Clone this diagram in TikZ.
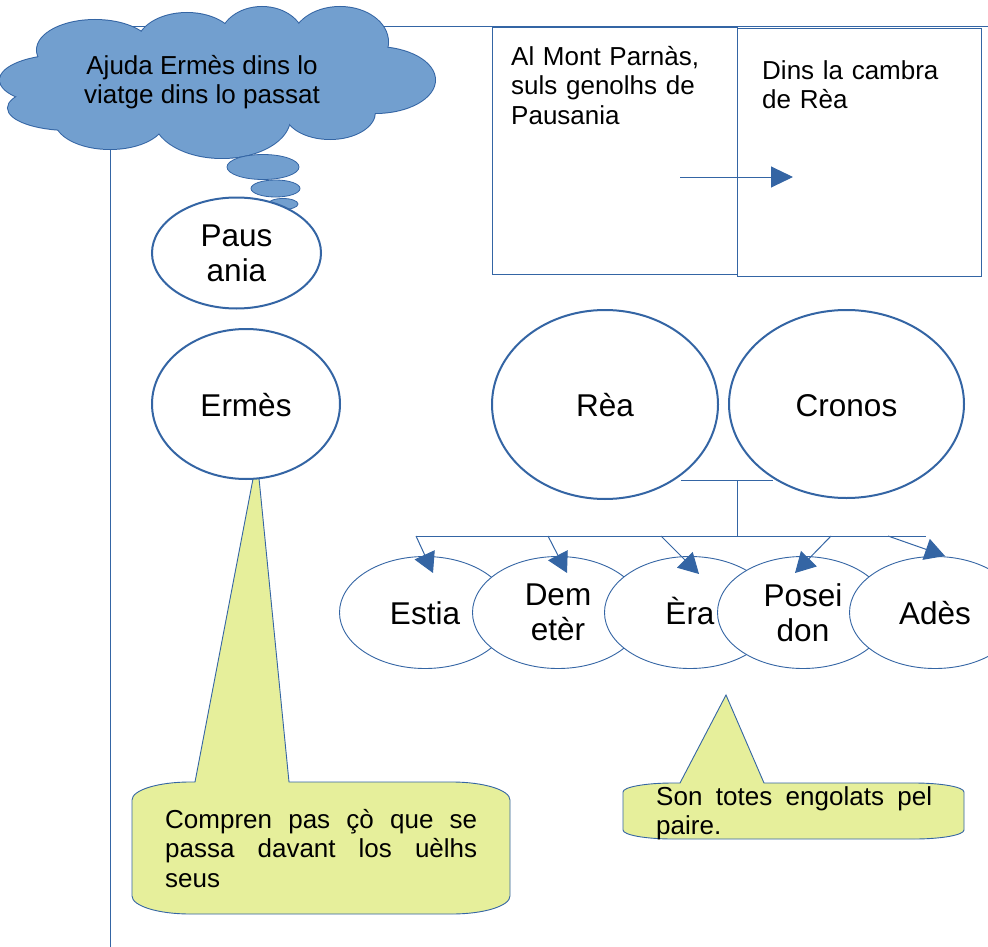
\documentclass[tikz,border=0pt]{standalone}
\usepackage{fontspec}
\setmainfont{Liberation Sans}
\usetikzlibrary{shapes.geometric,arrows.meta,calc}
\definecolor{lineblue}{HTML}{3465A4}
\definecolor{cloudblue}{HTML}{729FCF}
\definecolor{callyellow}{HTML}{E6EF9B}
\newcommand{\lblfont}{\fontsize{31.5}{35}\selectfont}
\newcommand{\txtfont}{\fontsize{26}{29.5}\selectfont\tolerance=9999 }
\begin{document}
\begin{tikzpicture}[x=1pt,y=-1pt,
  conn/.style={draw=lineblue, line width=1pt},
  arrtip/.style={conn, -{Triangle[length=20pt,width=22pt]}},
  boxarr/.style={conn, -{Triangle[length=22pt,width=21pt]}},
  bigell/.style={ellipse, draw=lineblue, line width=2pt, fill=white, inner sep=0pt, font=\lblfont, align=center},
  smallell/.style={ellipse, draw=lineblue, line width=0.9pt, fill=white, inner sep=0pt, font=\lblfont, align=center, minimum width=171pt, minimum height=112pt},
  oneline/.style={text height=24pt, text depth=0pt},
  panel/.style={rectangle, draw=lineblue, line width=1pt, inner sep=0pt, anchor=north west},
  txt/.style={inner sep=0pt, font=\txtfont, anchor=north west},
  callout/.style={draw=lineblue, line width=0.9pt, fill=callyellow},
  puff/.style={fill=cloudblue},
  puffline/.style={draw=lineblue, line width=2pt},
  bubble/.style={draw=lineblue, line width=0.8pt, fill=cloudblue}
]
\useasboundingbox (0,0) rectangle (988,947);
\fill[white] (0,0) rectangle (988,947);
\clip (0,0) rectangle (988,947);

% long elbow connector behind the cloud
\coordinate (vbot) at (110,947);
\coordinate (corner) at (110,27);
\coordinate (hend) at (988,27);
\draw[conn] (vbot) -- (corner) -- (hend);

% cloud
\foreach \cx/\cy/\rx/\ry in {65/80/65/25, 95/50/58/30, 187/45/50/32, 262/40/42/33, 340/42/48/35, 375/80/60/33, 330/112/45/27, 222/118/68/40, 110/120/55/29, 70/108/62/22}{
  \path[puffline] (\cx,\cy) ellipse [x radius=\rx, y radius=\ry];
}
\foreach \cx/\cy/\rx/\ry in {65/80/65/25, 95/50/58/30, 187/45/50/32, 262/40/42/33, 340/42/48/35, 375/80/60/33, 330/112/45/27, 222/118/68/40, 110/120/55/29, 70/108/62/22, 215/80/150/50}{
  \path[puff] (\cx,\cy) ellipse [x radius=\rx, y radius=\ry];
}
\node[inner sep=0pt, font=\txtfont, align=center, anchor=north] (cloudtxt) at (202,55) {Ajuda Ermès dins lo\\viatge dins lo passat};

% thought bubbles
\path[bubble] (263,167) ellipse [x radius=36, y radius=12.5];
\path[bubble] (275.5,188.5) ellipse [x radius=24.5, y radius=8.5];
\path[bubble] (283,204) ellipse [x radius=15, y radius=5.5];

% panels
\node[panel, minimum width=245pt, minimum height=247pt] (box1) at (492,27) {};
\node[panel, minimum width=244pt, minimum height=248pt] (box2) at (737,28) {};
\node[txt, text width=220pt, align=left] (box1txt) at (511,46) {Al Mont Parnàs,\\suls genolhs de\\Pausania};
\node[txt, text width=210pt, align=left] (box2txt) at (762,60) {Dins la cambra\\de Rèa};
\coordinate (a1) at (680,177);
\coordinate (a2) at (793,177);
\draw[boxarr] (a1) -- (a2);

% callouts (behind ellipses)
\path[callout] (195,782) -- (257,458) -- (289,782) -- (452,782)
  arc[start angle=-90, end angle=0, x radius=58, y radius=18] -- (510,896)
  arc[start angle=0, end angle=90, x radius=58, y radius=18] -- (190,914)
  arc[start angle=90, end angle=180, x radius=58, y radius=18] -- (132,800)
  arc[start angle=180, end angle=270, x radius=58, y radius=18] -- cycle;
\node[txt, text width=312pt, align=justify] (call1txt) at (165,809) {Compren pas çò que se passa davant los uèlhs seus};

\path[callout] (680,783) -- (726,695) -- (764,783) -- (914,783)
  arc[start angle=-90, end angle=0, x radius=50, y radius=9] -- (964,830)
  arc[start angle=0, end angle=90, x radius=50, y radius=9] -- (673,839)
  arc[start angle=90, end angle=180, x radius=50, y radius=9] -- (623,792)
  arc[start angle=180, end angle=270, x radius=50, y radius=9] -- cycle;
\node[txt, text width=276pt, align=justify] (call2txt) at (656,786) {Son totes engolats pel paire.};

% main ellipses
\node[bigell, minimum width=169pt, minimum height=111pt] (pausania) at (236.5,253) {Paus\\ania};
\node[bigell, oneline, minimum width=188pt, minimum height=150pt] (ermes) at (246,404) {Ermès};
\node[bigell, oneline, minimum width=226pt, minimum height=189pt] (rea) at (605,404.5) {Rèa};
\node[bigell, oneline, minimum width=235pt, minimum height=188pt] (cronos) at (846.5,404) {Cronos};

% children
\node[smallell, oneline] (estia) at (425,612.5) {Estia};
\node[smallell] (demeter) at (558,612.5) {Dem\\etèr};
\node[smallell, oneline] (era) at (690,612.5) {Èra};
\node[smallell] (poseidon) at (803,612.5) {Posei\\don};
\node[smallell, oneline] (ades) at (935,612.5) {Adès};

% family connectors
\draw[conn] ($(rea.center)+(76,75.5)$) -- ($(cronos.center)+(-73.5,76)$);
\coordinate (fork) at (737,480);
\coordinate (bus) at (737,536);
\coordinate (busL) at (416,536);
\coordinate (busR) at (926,536);
\draw[conn] (fork) -- (bus);
\draw[conn] (busL) -- (busR);
\coordinate (b2) at (548,536);
\coordinate (b3) at (661,536);
\coordinate (b4) at (831,536);
\coordinate (b5) at (888,536);
\draw[arrtip] (busL) -- ($(estia.center)+(8,-39.5)$);
\draw[arrtip] (b2) -- ($(demeter.center)+(9,-39.5)$);
\draw[arrtip] (b3) -- ($(era.center)+(9,-38.5)$);
\draw[arrtip] (b4) -- ($(poseidon.center)+(-8,-39.5)$);
\draw[arrtip] (b5) -- ($(ades.center)+(10,-56.5)$);
\end{tikzpicture}
\end{document}
